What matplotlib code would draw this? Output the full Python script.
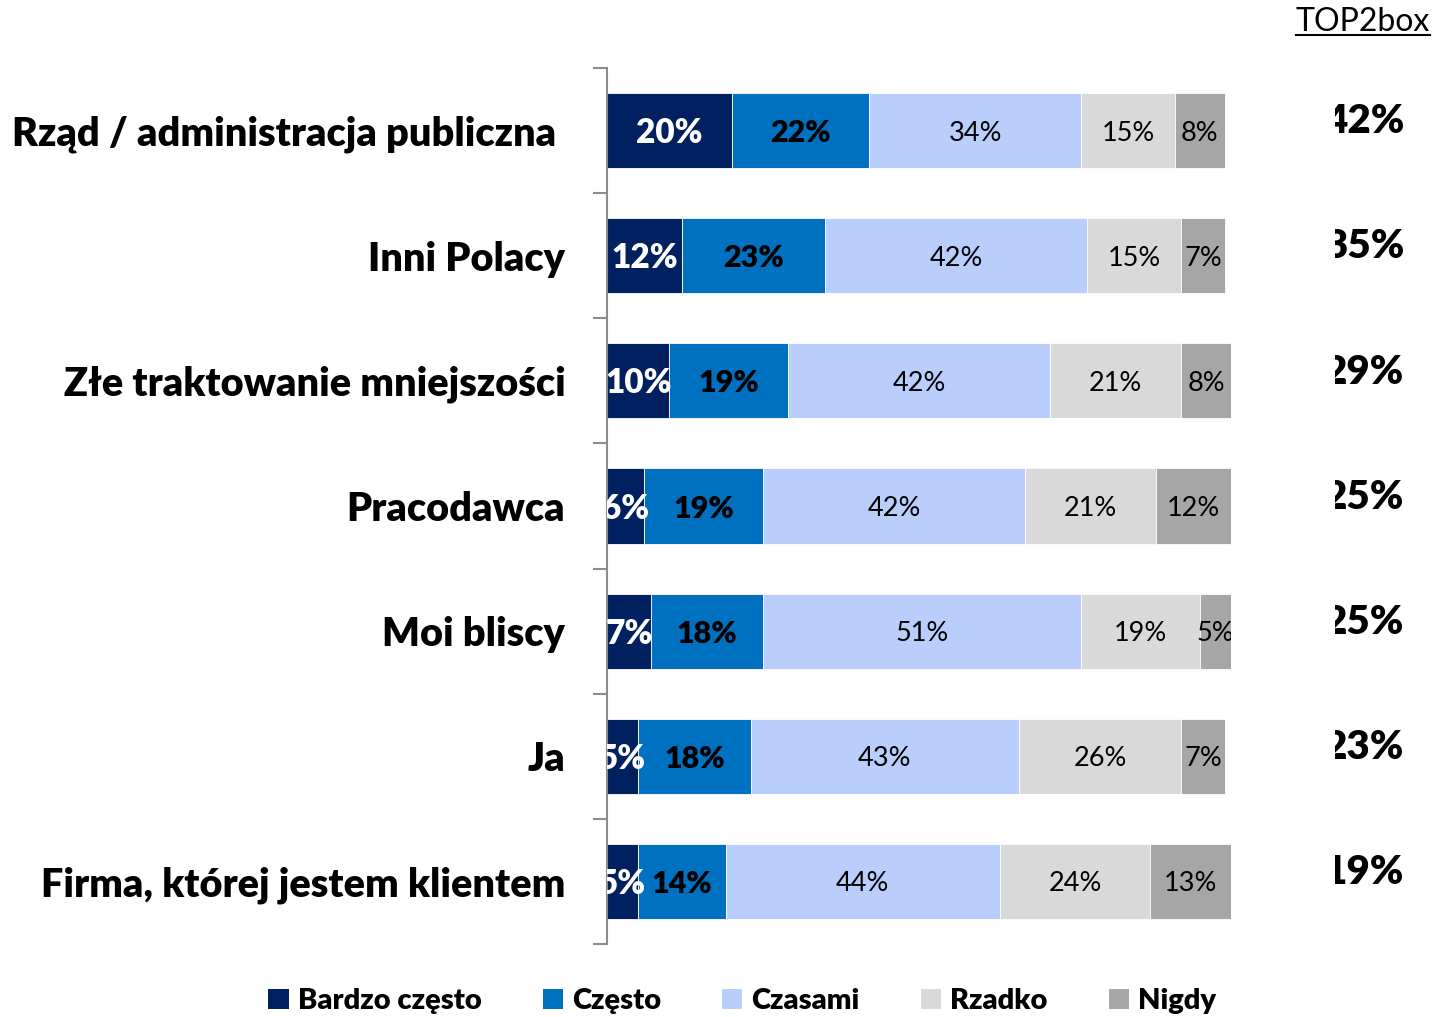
import matplotlib.pyplot as plt
from matplotlib.patches import Patch
from matplotlib.lines import Line2D

plt.rcParams['font.family'] = ['Lato', 'DejaVu Sans']

categories = ['Rząd / administracja publiczna ', 'Inni Polacy', 'Złe traktowanie mniejszości',
              'Pracodawca', 'Moi bliscy', 'Ja', 'Firma, której jestem klientem']
series = ['Bardzo często', 'Często', 'Czasami', 'Rzadko', 'Nigdy']
bardzo_czesto = [20, 12, 10, 6, 7, 5, 5]
czesto = [22, 23, 19, 19, 18, 18, 14]
czasami = [34, 42, 42, 42, 51, 43, 44]
rzadko = [15, 15, 21, 21, 19, 26, 24]
nigdy = [8, 7, 8, 12, 5, 7, 13]
top2box = ['42%', '35%', '29%', '25%', '25%', '23%', '19%']

colors = ['#002060', '#0070C0', '#B9CEFA', '#D9D9D9', '#A6A6A6']
values = [bardzo_czesto, czesto, czasami, rzadko, nigdy]

W, H = 1437, 1017
fig = plt.figure(figsize=(W / 100, H / 100), dpi=100)
ax = fig.add_axes([607 / W, 1 - 944 / H, 624 / W, 876 / H])

y = list(range(len(categories)))
left = [0] * len(categories)
for i, (name, vals) in enumerate(zip(series, values)):
    ax.barh(y, vals, left=left, height=0.6, color=colors[i], edgecolor='white', linewidth=0.6, label=name)
    for j, v in enumerate(vals):
        cx = left[j] + v / 2
        if i == 0:
            ax.text(cx, j + 0.02, f'{v}%', ha='center', va='center', color='white', fontsize=24,
                    fontweight='heavy', clip_on=True)
        elif i == 1:
            ax.text(cx, j + 0.02, f'{v}%', ha='center', va='center', color='black', fontsize=22,
                    fontweight='heavy', clip_on=True)
        else:
            ax.text(cx, j + 0.02, f'{v}%', ha='center', va='center', color='black', fontsize=19.5,
                    clip_on=True)
    left = [a + b for a, b in zip(left, vals)]

ax.set_xlim(0, 100)
ax.set_ylim(len(categories) - 0.5, -0.5)
ax.set_yticks(y)
ax.set_yticklabels(categories, fontsize=28.5, fontweight='heavy')
ax.set_yticks([k - 0.5 for k in range(len(categories) + 1)], minor=True)
ax.tick_params(axis='y', which='major', length=0, pad=30)
ax.tick_params(axis='y', which='minor', length=10, width=1.5, color='#8C8C8C', direction='out')
ax.set_xticks([])
for s in ['top', 'right', 'bottom']:
    ax.spines[s].set_visible(False)
ax.spines['left'].set_color('#8C8C8C')
ax.spines['left'].set_linewidth(1.5)

# TOP2box column (clipped on its left side)
ax2 = fig.add_axes([1335 / W, 1 - 944 / H, 102 / W, 876 / H])
ax2.set_xlim(0, 1)
ax2.set_ylim(len(categories) - 0.5, -0.5)
ax2.axis('off')
for j, t in enumerate(top2box):
    ax2.text(0.68, j - 0.07, t, ha='right', va='center', fontsize=29, fontweight='heavy',
             clip_on=True)

title = fig.text(1430 / W, 1 - 22 / H, 'TOP2box', ha='right', va='center', fontsize=23)
fig.canvas.draw()
bb = title.get_window_extent().transformed(fig.transFigure.inverted())
fig.add_artist(Line2D([bb.x0, bb.x1], [bb.y0 + 0.002, bb.y0 + 0.002], color='black', linewidth=1.5,
                      transform=fig.transFigure))

handles = [Patch(facecolor=c, label=n) for c, n in zip(colors, series)]
fig.legend(handles=handles, loc='center', bbox_to_anchor=(742 / W, 1 - 1001 / H), ncol=5,
           frameon=False, handlelength=0.7, handleheight=0.7, handletextpad=0.3,
           columnspacing=2.1, prop={'size': 21, 'weight': 'heavy'})

fig.savefig('out.png', dpi=100)
